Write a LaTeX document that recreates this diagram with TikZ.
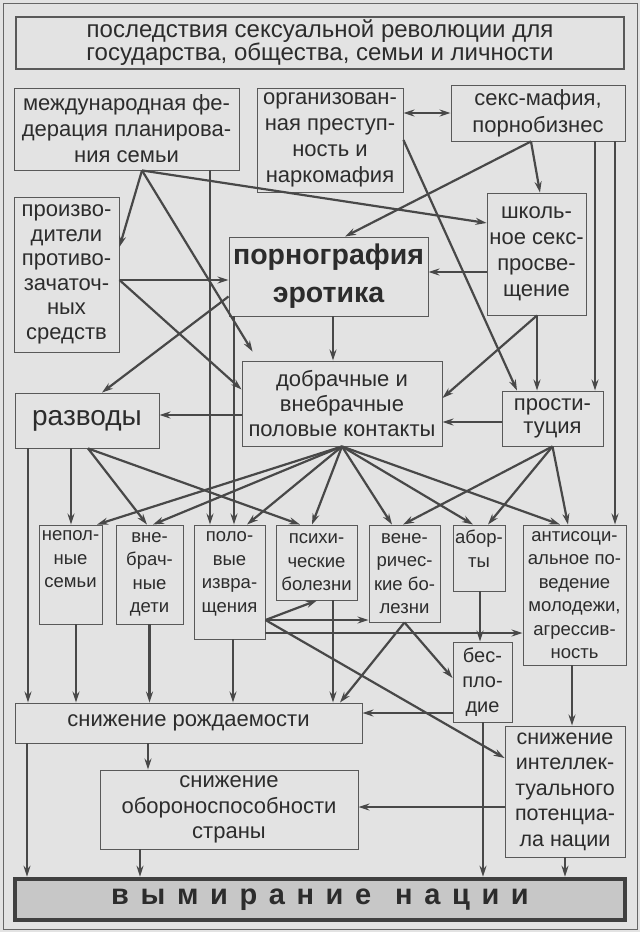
\documentclass[tikz,border=0pt]{standalone}
\usepackage{fontspec}
\setmainfont{Liberation Sans}
\newfontfamily\spacedfont[LetterSpace=40]{Liberation Sans}
\usepackage{xcolor}
\usetikzlibrary{arrows.meta}
\definecolor{paper}{HTML}{E3E3E3}
\definecolor{ink}{HTML}{2C2C2C}
\definecolor{wire}{HTML}{484848}

\begin{document}
\begin{tikzpicture}[
  x=1pt, y=-1pt,
  >={Stealth[length=11pt,width=7pt]},
  cbox/.style={draw=black!65, line width=0.9pt, inner sep=1pt, align=center, text=ink, font=\fontsize{22}{26}\selectfont},
  rowbox/.style={cbox, font=\fontsize{18.5}{23.5}\selectfont},
  link/.style={draw=wire, line width=2.2pt, ->}
]
\useasboundingbox (0,0) rectangle (640,932);
\fill[paper] (0,0) rectangle (640,932);
\draw[black!60, line width=1pt] (3,3) rectangle (637,929);

% Title
\node[cbox, line width=2pt, minimum width=608, minimum height=52, font=\fontsize{24}{23}\selectfont] (title) at (320,43) {последствия сексуальной революции для\\государства, общества, семьи и личности};

% Sources
\node[cbox, minimum width=225, minimum height=82] (mfed) at (126.5,129) {международная фе-\\дерация планирова-\\ния семьи};
\node[cbox, minimum width=146, minimum height=104] (org) at (330,140) {организован-\\ная преступ-\\ность и\\наркомафия};
\node[cbox, minimum width=174, minimum height=56, font=\fontsize{22}{27}\selectfont] (mafia) at (538,113) {секс-мафия,\\порнобизнес};
\node[cbox, minimum width=105, minimum height=155, font=\fontsize{22}{24.5}\selectfont] (prod) at (66.5,274.5) {произво-\\дители\\противо-\\зачаточ-\\ных\\средств};
\node[cbox, minimum width=199, minimum height=79, inner sep=0pt, font=\fontsize{28.5}{38}\selectfont\bfseries] (porn) at (328.5,276.5) {порнография\\эротика};
\node[cbox, minimum width=99, minimum height=122] (school) at (536.5,254) {школь-\\ное секс-\\просве-\\щение};
\node[cbox, minimum width=200, minimum height=85, font=\fontsize{22}{25}\selectfont] (dobr) at (342,403.5) {добрачные и\\внебрачные\\половые контакты};
\node[cbox, minimum width=144, minimum height=55, font=\fontsize{28}{30}\selectfont] (razv) at (87,420.5) {разводы};
\node[cbox, minimum width=101, minimum height=55, font=\fontsize{22}{23}\selectfont] (prost) at (552.5,418.5) {прости-\\туция};

% Consequences
\node[rowbox, minimum width=63, minimum height=99] (nepol) at (70.5,574.5) {непол-\\ные\\семьи\\\strut};
\node[rowbox, minimum width=67, minimum height=99] (vnebr) at (149.5,574.5) {вне-\\брач-\\ные\\дети};
\node[rowbox, minimum width=71, minimum height=114] (polov) at (229.5,582) {поло-\\вые\\извра-\\щения\\[-11pt]\strut};
\node[rowbox, minimum width=81, minimum height=75] (psych) at (316.5,562.5) {психи-\\ческие\\болезни};
\node[rowbox, minimum width=71, minimum height=97] (vener) at (404.5,573.5) {вене-\\ричес-\\кие бо-\\лезни};
\node[rowbox, minimum width=52, minimum height=66, inner sep=0pt] (aborty) at (479,558) {абор-\\ты\\[-12pt]\strut};
\node[rowbox, minimum width=103, minimum height=140] (antisoc) at (574.5,595) {антисоци-\\альное по-\\ведение\\молодежи,\\агрессив-\\ность};
\node[rowbox, minimum width=59, minimum height=80, font=\fontsize{20}{25}\selectfont] (bespl) at (482.5,682) {бес-\\пло-\\дие};

% Results
\node[cbox, minimum width=347, minimum height=40] (rozh) at (188.5,723) {снижение рождаемости};
\node[cbox, minimum width=120, minimum height=131, font=\fontsize{21.5}{25.5}\selectfont] (intel) at (565,791.5) {снижение\\интеллек-\\туального\\потенциа-\\ла нации};
\node[cbox, minimum width=258, minimum height=79, font=\fontsize{22}{25.5}\selectfont] (oboron) at (229,809.5) {снижение\\обороноспособности\\страны};
\node[cbox, draw=black!75, line width=4.5pt, fill=black!22, minimum width=610, minimum height=41] (vymir) at (320,899.5) {\spacedfont\fontsize{29}{30}\selectfont\bfseries вымирание\hspace{24pt}нации};

% Arrows from the top row
\draw[link, <->] (org.east |- mafia.west) -- (mafia.west);
\draw[link] ([xshift=15.5]mfed.south) -- ([yshift=27.5]prod.east);
\draw[link] ([xshift=15.5]mfed.south) -- ([yshift=31]school.west);
\draw[link] ([xshift=15.5]mfed.south) -- ([xshift=11,yshift=9]dobr.north west);
\draw[link] ([xshift=83.5]mfed.south) -- ([xshift=83.5]mfed.south |- polov.north);
\draw[link] ([xshift=-7]mafia.south) -- ([xshift=3.5]school.north);
\draw[link] ([xshift=-7]mafia.south) -- ([xshift=16.5]porn.north);
\draw[link] ([xshift=57]mafia.south) -- ([xshift=57]mafia.south |- prost.north);
\draw[link] ([xshift=77]mafia.south) -- ([xshift=77]mafia.south |- antisoc.north);
\draw[link] (org.east) -- ([xshift=-35.5]prost.north);

% Middle
\draw[link] ([yshift=-5.5]prod.east) -- ([yshift=-5.5]prod.east -| porn.west);
\draw[link] ([yshift=-5.5]prod.east) -- ([yshift=14]dobr.west);
\draw[link] ([yshift=-20]porn.west) -- ([xshift=15]razv.north);
\draw[link] ([xshift=-94.5]porn.south) -- ([xshift=-94.5]porn.south |- polov.north);
\draw[link] ([xshift=4.5]porn.south) -- ([xshift=4.5]porn.south |- dobr.north);
\draw[link] ([yshift=-18]school.west) -- ([yshift=-18]school.west -| porn.east);
\draw[link] ([xshift=0.5]school.south) -- ([yshift=5.5]dobr.east);
\draw[link] ([xshift=0.5]school.south) -- ([xshift=0.5]school.south |- prost.north);
\draw[link] ([yshift=-3.5]prost.west) -- ([yshift=-3.5]prost.west -| dobr.east);
\draw[link] ([yshift=-11.5]dobr.west) -- ([yshift=-11.5]dobr.west -| razv.east);

% Fans
\draw[link] (dobr.south) -- ([xshift=26.5]nepol.north);
\draw[link] (dobr.south) -- ([xshift=3.5]vnebr.north);
\draw[link] (dobr.south) -- ([xshift=17.5]polov.north);
\draw[link] (dobr.south) -- ([xshift=-4.5]psych.north);
\draw[link] (dobr.south) -- ([xshift=-12.5]vener.north);
\draw[link] (dobr.south) -- ([xshift=-6]aborty.north);
\draw[link] (dobr.south) -- ([xshift=-14.5]antisoc.north);
\draw[link] (prost.south) -- ([xshift=-1.5]vener.north);
\draw[link] (prost.south) -- ([xshift=9]aborty.north);
\draw[link] (prost.south) -- ([xshift=-6.5]antisoc.north);
\draw[link] ([xshift=-59]razv.south) -- ([xshift=-59]razv.south |- rozh.north);
\draw[link] ([xshift=-16]razv.south) -- ([xshift=-16]razv.south |- nepol.north);
\draw[link] ([xshift=1]razv.south) -- ([xshift=-2.5]vnebr.north);
\draw[link] ([xshift=1]razv.south) -- ([xshift=-16.5]psych.north);

% Lower part
\draw[link] ([xshift=5.5]nepol.south) -- ([xshift=5.5]nepol.south |- rozh.north);
\draw[link] (vnebr.south) -- (vnebr.south |- rozh.north);
\draw[link] ([xshift=3.5]polov.south) -- ([xshift=3.5]polov.south |- rozh.north);
\draw[link] ([yshift=-38]polov.east) -- ([xshift=0.5]psych.south);
\draw[link] ([yshift=-38]polov.east) -- ([yshift=-38]polov.east -| vener.west);
\draw[link] ([yshift=-51]polov.east) -- ([yshift=-51]polov.east -| antisoc.west);
\draw[link] ([yshift=-38]polov.east) -- ([yshift=33.5]intel.west);
\draw[link] ([xshift=16.5]psych.south) -- ([xshift=16.5]psych.south |- rozh.north);
\draw[link] (vener.south) -- ([xshift=151.5]rozh.north);
\draw[link] (vener.south) -- ([yshift=4]bespl.west);
\draw[link] ([xshift=1]aborty.south) -- ([xshift=1]aborty.south |- bespl.north);
\draw[link] ([yshift=-31]bespl.west) -- ([yshift=-31]bespl.west -| rozh.east);
\draw[link] ([xshift=0.5]bespl.south) -- ([xshift=0.5]bespl.south |- vymir.north);
\draw[link] ([xshift=-2.5]antisoc.south) -- ([xshift=-2.5]antisoc.south |- intel.north);
\draw[link] ([yshift=-15.5]intel.west) -- ([yshift=-15.5]intel.west -| oboron.east);
\draw[link] (intel.south) -- (intel.south |- vymir.north);
\draw[link] ([xshift=-40.5]rozh.south) -- ([xshift=-40.5]rozh.south |- oboron.north);
\draw[link] ([xshift=-161.5]rozh.south) -- ([xshift=-161.5]rozh.south |- vymir.north);
\draw[link] ([xshift=-89]oboron.south) -- ([xshift=-89]oboron.south |- vymir.north);

\end{tikzpicture}
\end{document}
